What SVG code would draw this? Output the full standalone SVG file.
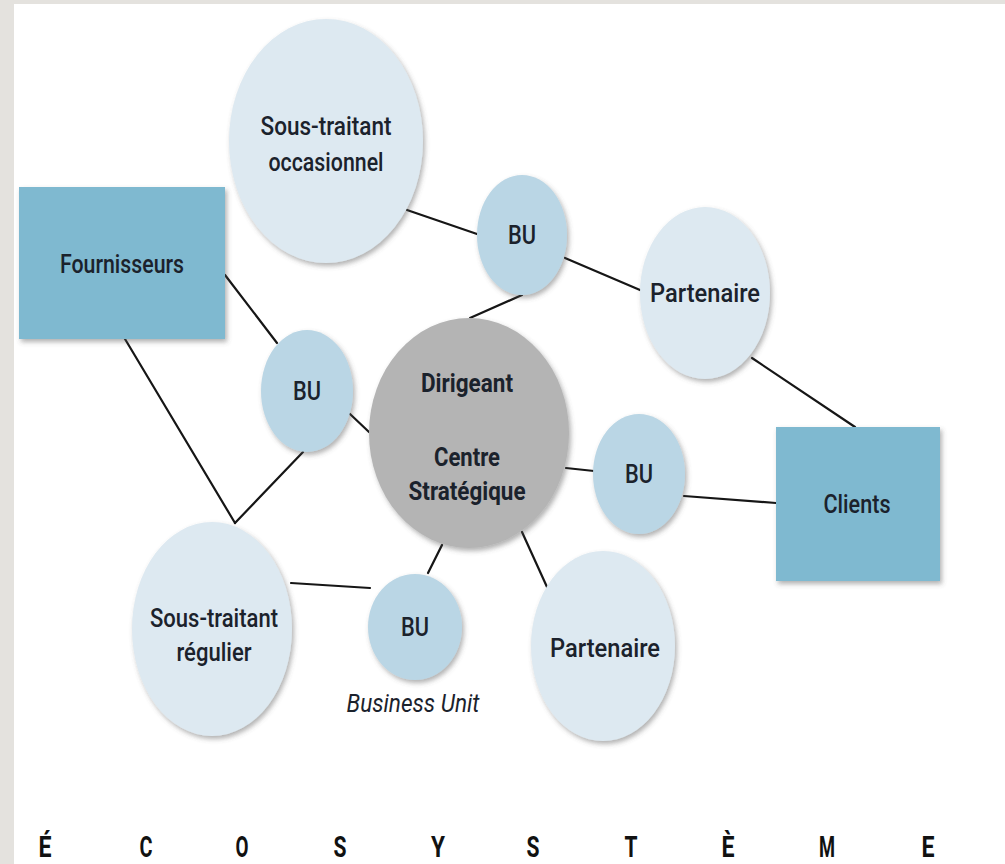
<svg xmlns="http://www.w3.org/2000/svg" width="1005" height="864" viewBox="0 0 1005 864">
  <defs>
    <filter id="sh" x="-20%" y="-20%" width="150%" height="150%">
      <feDropShadow dx="2" dy="3" stdDeviation="2.5" flood-color="#555" flood-opacity="0.45"/>
    </filter>
  </defs>
  <style>
    .pale { fill: #dde9f1; filter: url(#sh); }
    .bu { fill: #bad6e5; filter: url(#sh); }
    .box { fill: #7fb9d0; filter: url(#sh); }
    .core { fill: #b4b4b4; filter: url(#sh); }
    .lbl { font-family: Roboto, "Liberation Sans", sans-serif; font-size: 25px; font-weight: 500; fill: #1b222c; text-anchor: middle; }
    .bold { font-weight: 700; }
    .it { font-style: italic; font-weight: 400; }
    .big { font-family: Roboto, "Liberation Sans", sans-serif; font-size: 30px; font-weight: 700; fill: #111; text-anchor: middle; }
    .ln { stroke: #161616; stroke-width: 2.2; fill: none; stroke-linecap: round; }
  </style>
  <rect x="0" y="0" width="1005" height="864" fill="#ffffff"/>
  <rect x="0" y="0" width="1005" height="4" fill="#e4e2de"/>
  <rect x="0" y="0" width="14" height="864" fill="#e4e2de"/>

  <g id="connectors">
    <line class="ln" x1="407" y1="210" x2="477" y2="234"/>
    <line class="ln" x1="565" y1="258" x2="640" y2="290"/>
    <line class="ln" x1="522" y1="295" x2="470" y2="318"/>
    <line class="ln" x1="225" y1="275" x2="277" y2="343"/>
    <line class="ln" x1="350" y1="414" x2="369" y2="432"/>
    <line class="ln" x1="125" y1="339" x2="235" y2="523"/>
    <line class="ln" x1="303" y1="452" x2="235" y2="523"/>
    <line class="ln" x1="752" y1="358" x2="855" y2="427"/>
    <line class="ln" x1="566" y1="468" x2="594" y2="471"/>
    <line class="ln" x1="684" y1="496" x2="776" y2="503"/>
    <line class="ln" x1="442" y1="545" x2="428" y2="573"/>
    <line class="ln" x1="291" y1="583" x2="370" y2="588"/>
    <line class="ln" x1="522" y1="532" x2="547" y2="587"/>
  </g>

  <g id="fournisseurs">
    <rect class="box" x="19" y="187" width="206" height="152"/>
    <text class="lbl" x="122" y="273" textLength="124" lengthAdjust="spacingAndGlyphs">Fournisseurs</text>
  </g>
  <g id="sous-traitant-occasionnel">
    <ellipse class="pale" cx="326" cy="141" rx="97" ry="122"/>
    <text class="lbl" x="326" y="135" textLength="131" lengthAdjust="spacingAndGlyphs">Sous-traitant</text>
    <text class="lbl" x="326" y="171" textLength="115" lengthAdjust="spacingAndGlyphs">occasionnel</text>
  </g>
  <g id="bu-top">
    <ellipse class="bu" cx="522" cy="235" rx="45" ry="60"/>
    <text class="lbl" x="522" y="244" textLength="28" lengthAdjust="spacingAndGlyphs">BU</text>
  </g>
  <g id="partenaire-top">
    <ellipse class="pale" cx="705" cy="293" rx="65" ry="86"/>
    <text class="lbl" x="705" y="302" textLength="110" lengthAdjust="spacingAndGlyphs">Partenaire</text>
  </g>
  <g id="bu-left">
    <ellipse class="bu" cx="307" cy="391" rx="46" ry="61"/>
    <text class="lbl" x="307" y="400" textLength="28" lengthAdjust="spacingAndGlyphs">BU</text>
  </g>
  <g id="dirigeant">
    <ellipse class="core" cx="469" cy="433" rx="100" ry="115"/>
    <text class="lbl bold" x="467" y="392" textLength="92" lengthAdjust="spacingAndGlyphs">Dirigeant</text>
    <text class="lbl bold" x="467" y="466" textLength="66" lengthAdjust="spacingAndGlyphs">Centre</text>
    <text class="lbl bold" x="467" y="500" textLength="117" lengthAdjust="spacingAndGlyphs">Stratégique</text>
  </g>
  <g id="bu-right">
    <ellipse class="bu" cx="639" cy="474" rx="46" ry="60"/>
    <text class="lbl" x="639" y="483" textLength="28" lengthAdjust="spacingAndGlyphs">BU</text>
  </g>
  <g id="clients">
    <rect class="box" x="776" y="427" width="164" height="154"/>
    <text class="lbl" x="857" y="513" textLength="67" lengthAdjust="spacingAndGlyphs">Clients</text>
  </g>
  <g id="sous-traitant-regulier">
    <ellipse class="pale" cx="212" cy="629" rx="80" ry="107"/>
    <text class="lbl" x="214" y="627" textLength="128" lengthAdjust="spacingAndGlyphs">Sous-traitant</text>
    <text class="lbl" x="214" y="661" textLength="75" lengthAdjust="spacingAndGlyphs">régulier</text>
  </g>
  <g id="bu-bottom">
    <ellipse class="bu" cx="415" cy="627" rx="47" ry="53"/>
    <text class="lbl" x="415" y="636" textLength="28" lengthAdjust="spacingAndGlyphs">BU</text>
    <text class="lbl it" x="413" y="712" textLength="133" lengthAdjust="spacingAndGlyphs">Business Unit</text>
  </g>
  <g id="partenaire-bottom">
    <ellipse class="pale" cx="603" cy="646" rx="72" ry="95"/>
    <text class="lbl" x="605" y="657" textLength="110" lengthAdjust="spacingAndGlyphs">Partenaire</text>
  </g>

  <g id="title">
    <text class="big" x="45" y="857" textLength="13" lengthAdjust="spacingAndGlyphs">É</text>
    <text class="big" x="146" y="857" textLength="13" lengthAdjust="spacingAndGlyphs">C</text>
    <text class="big" x="242" y="857" textLength="13" lengthAdjust="spacingAndGlyphs">O</text>
    <text class="big" x="340" y="857" textLength="13" lengthAdjust="spacingAndGlyphs">S</text>
    <text class="big" x="438" y="857" textLength="14" lengthAdjust="spacingAndGlyphs">Y</text>
    <text class="big" x="533" y="857" textLength="13" lengthAdjust="spacingAndGlyphs">S</text>
    <text class="big" x="631" y="857" textLength="13" lengthAdjust="spacingAndGlyphs">T</text>
    <text class="big" x="728" y="857" textLength="13" lengthAdjust="spacingAndGlyphs">È</text>
    <text class="big" x="827" y="857" textLength="16" lengthAdjust="spacingAndGlyphs">M</text>
    <text class="big" x="928" y="857" textLength="13" lengthAdjust="spacingAndGlyphs">E</text>
  </g>
</svg>
